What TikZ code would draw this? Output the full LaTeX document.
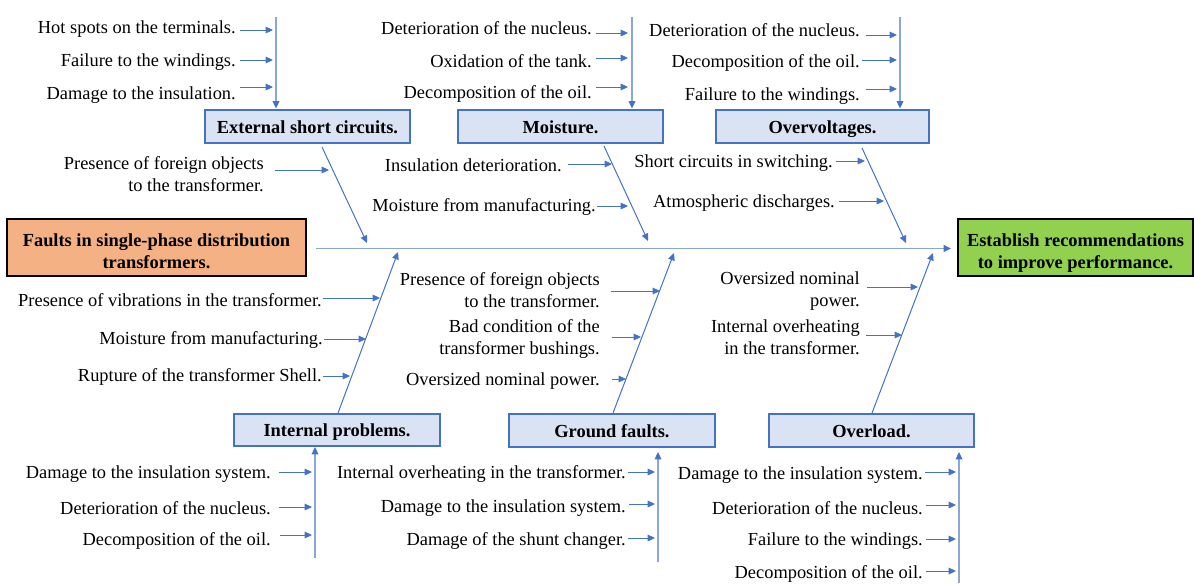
\documentclass[tikz,border=0pt]{standalone}
\usepackage{fontspec}
\setmainfont{Liberation Serif}
\usetikzlibrary{arrows.meta}
\definecolor{lblue}{HTML}{4472C4}
\definecolor{pblue}{HTML}{8AA6DC}
\definecolor{boxfill}{HTML}{DAE3F3}
\definecolor{orangefill}{HTML}{F4B183}
\definecolor{greenfill}{HTML}{92D050}
\tikzset{
  cat/.style={draw=lblue, line width=1.5pt, fill=boxfill, inner sep=0pt,
    text height=10.2pt, text depth=0pt,
    font=\fontsize{13.8pt}{16.5pt}\selectfont\bfseries},
  endbox/.style={draw=black, line width=1.5pt, inner sep=0pt, align=center,
    text height=31pt, text depth=0pt,
    font=\fontsize{13.8pt}{16.5pt}\selectfont\bfseries},
  lbl/.style={anchor=east, inner sep=0pt, align=right, yshift=-1.5pt,
    font=\fontsize{13.8pt}{16.5pt}\selectfont},
  sa/.style={draw=lblue, line width=0.75pt, -{Triangle[length=5.5pt,width=5pt]}},
  bone/.style={draw=lblue, line width=0.75pt, -{Triangle[length=5.5pt,width=5pt]}},
  spine/.style={draw=pblue, line width=1.1pt, -{Triangle[length=5.5pt,width=5pt,color=lblue]}},
}
\begin{document}
\begin{tikzpicture}[x=0.75pt,y=-0.75pt]
\useasboundingbox (0,0) rectangle (1194,583);

% end boxes
\node[endbox, fill=orangefill, minimum width=224.25pt, minimum height=42.75pt] (faults) at (156.5,247.5)
  {Faults in single-phase distribution\\transformers.};
\node[endbox, fill=greenfill, minimum width=176.25pt, minimum height=42.75pt] (estab) at (1075.5,247.5)
  {Establish recommendations\\to improve performance.};

% category boxes
\node[cat, minimum width=153.75pt, minimum height=24.75pt] (esc) at (307.5,126.5) {External short circuits.};
\node[cat, minimum width=153.75pt, minimum height=24.75pt] (moist) at (560.5,126.5) {Moisture.};
\node[cat, minimum width=159.75pt, minimum height=24.75pt] (overv) at (822.5,126.5) {Overvoltages.};
\node[cat, minimum width=154.5pt, minimum height=24pt] (intp) at (337,430) {Internal problems.};
\node[cat, minimum width=154.5pt, minimum height=24.75pt] (gnd) at (612,430.5) {Ground faults.};
\node[cat, minimum width=153.75pt, minimum height=24.75pt] (ovl) at (871.5,430.5) {Overload.};

% spine
\coordinate (sp0) at (316,248.5);
\coordinate (sp1) at (951,248.5);
\draw[spine] (sp0) -- (sp1);

% top verticals
\coordinate (v1t) at (276,17); \coordinate (v1b) at (276,108.5);
\coordinate (v2t) at (632,17); \coordinate (v2b) at (632,108.5);
\coordinate (v3t) at (900,17); \coordinate (v3b) at (900,108.5);
\draw[spine, line width=0.9pt] (v1t) -- (v1b);
\draw[spine, line width=0.9pt] (v2t) -- (v2b);
\draw[spine, line width=0.9pt] (v3t) -- (v3b);

% bottom verticals
\coordinate (w1b) at (315,558); \coordinate (w1t) at (315,447);
\coordinate (w2b) at (658,562); \coordinate (w2t) at (658,452);
\coordinate (w3b) at (959,583); \coordinate (w3t) at (959,452);
\draw[spine, line width=0.9pt] (w1b) -- (w1t);
\draw[spine, line width=0.9pt] (w2b) -- (w2t);
\draw[spine, line width=0.9pt] (w3b) -- (w3t);

% diagonals
\coordinate (d1a) at (322,147); \coordinate (d1b) at (367,243);
\coordinate (d2a) at (604,146); \coordinate (d2b) at (648,241);
\coordinate (d3a) at (862,148); \coordinate (d3b) at (906,243);
\coordinate (d4a) at (338,413); \coordinate (d4b) at (398,252);
\coordinate (d5a) at (613,413); \coordinate (d5b) at (674,253);
\coordinate (d6a) at (872,413); \coordinate (d6b) at (933,253);
\draw[bone] (d1a) -- (d1b);
\draw[bone] (d2a) -- (d2b);
\draw[bone] (d3a) -- (d3b);
\draw[bone] (d4a) -- (d4b);
\draw[bone] (d5a) -- (d5b);
\draw[bone] (d6a) -- (d6b);

% ---- External short circuits: vertical causes
\node[lbl] (a1) at (236,27) {Hot spots on the terminals.};
\node[lbl] (a2) at (236,60) {Failure to the windings.};
\node[lbl] (a3) at (236,93) {Damage to the insulation.};
\draw[sa] (240,30) -- (273,30);
\draw[sa] (240,60) -- (273,60);
\draw[sa] (240,87) -- (273,87);

% ---- Moisture: vertical causes
\node[lbl] (b1) at (592,26) {Deterioration of the nucleus.};
\node[lbl] (b2) at (592,59) {Oxidation of the tank.};
\node[lbl] (b3) at (592,92) {Decomposition of the oil.};
\draw[sa] (596,33) -- (628,33);
\draw[sa] (596,58) -- (628,58);
\draw[sa] (596,87) -- (628,87);

% ---- Overvoltages: vertical causes
\node[lbl] (c1) at (860,28) {Deterioration of the nucleus.};
\node[lbl] (c2) at (860,61) {Decomposition of the oil.};
\node[lbl] (c3) at (860,94) {Failure to the windings.};
\draw[sa] (866,35) -- (897,35);
\draw[sa] (862,60) -- (897,60);
\draw[sa] (866,89) -- (897,89);

% ---- diagonal causes, top
\node[lbl] (e1) at (264,172) {Presence of foreign objects\\to the transformer.};
\draw[sa] (275,170) -- (329,170);
\node[lbl] (f1) at (562,163) {Insulation deterioration.};
\draw[sa] (568,164) -- (612,164);
\node[lbl] (f2) at (596,205) {Moisture from manufacturing.};
\draw[sa] (597,206) -- (628,206);
\node[lbl] (g1) at (833,161) {Short circuits in switching.};
\draw[sa] (836,161) -- (865,161);
\node[lbl] (g2) at (835,201) {Atmospheric discharges.};
\draw[sa] (839,201) -- (884,201);

% ---- diagonal causes, bottom
\node[lbl] (h1) at (322,298) {Presence of vibrations in the transformer.};
\draw[sa] (323,298) -- (380,298);
\node[lbl] (h2) at (323,338) {Moisture from manufacturing.};
\draw[sa] (324,339) -- (366,339);
\node[lbl] (h3) at (322,375) {Rupture of the transformer Shell.};
\draw[sa] (323,376) -- (350,376);

\node[lbl] (i1) at (600,288) {Presence of foreign objects\\to the transformer.};
\draw[sa] (611,291) -- (660,291);
\node[lbl] (i2) at (600,337) {Bad condition of the\\transformer bushings.};
\draw[sa] (612,337) -- (641,337);
\node[lbl] (i3) at (600,379) {Oversized nominal power.};
\draw[sa] (612,379) -- (626,379);

\node[lbl] (j1) at (860,289) {Oversized nominal\\power.};
\draw[sa] (867,287) -- (918,287);
\node[lbl] (j2) at (860,335) {Internal overheating\\in the transformer.};
\draw[sa] (866,335) -- (902,335);

% ---- bottom vertical causes
\node[lbl] (k1) at (271,472) {Damage to the insulation system.};
\node[lbl] (k2) at (271,506) {Deterioration of the nucleus.};
\node[lbl] (k3) at (271,539) {Decomposition of the oil.};
\draw[sa] (279,472) -- (312,472);
\draw[sa] (279,507) -- (312,507);
\draw[sa] (280,535) -- (312,535);

\node[lbl] (l1) at (626,472) {Internal overheating in the transformer.};
\node[lbl] (l2) at (626,506) {Damage to the insulation system.};
\node[lbl] (l3) at (626,539) {Damage of the shunt changer.};
\draw[sa] (628,472) -- (655,472);
\draw[sa] (629,504) -- (655,504);
\draw[sa] (628,538) -- (655,538);

\node[lbl] (m1) at (923,473) {Damage to the insulation system.};
\node[lbl] (m2) at (923,506) {Deterioration of the nucleus.};
\node[lbl] (m3) at (923,539) {Failure to the windings.};
\node[lbl] (m4) at (923,572) {Decomposition of the oil.};
\draw[sa] (925,472) -- (956,472);
\draw[sa] (926,505) -- (956,505);
\draw[sa] (926,539) -- (956,539);
\draw[sa] (926,571) -- (956,571);
\end{tikzpicture}
\end{document}
